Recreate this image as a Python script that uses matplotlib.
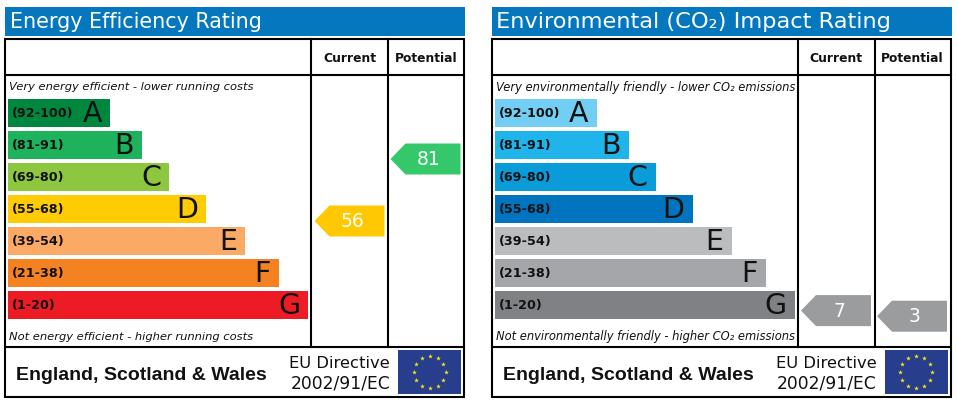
#!/usr/bin/env python3
# -*- coding: utf-8 -*-
import numpy as np
import matplotlib
matplotlib.use('Agg')
import matplotlib.pyplot as plt
from matplotlib.patches import Polygon, Rectangle

bands = ['A', 'B', 'C', 'D', 'E', 'F', 'G']
band_labels = ['(92-100)', '(81-91)', '(69-80)', '(55-68)', '(39-54)', '(21-38)', '(1-20)']
band_low = [92, 81, 69, 55, 39, 21, 1]
band_high = [100, 91, 80, 68, 54, 38, 20]
bar_lengths = [102, 134, 161, 198, 237, 271, 300]

energy_colors = ['#00873f', '#1db25b', '#8dc63f', '#ffcc03', '#fbaa65', '#f58220', '#ed1c24']
co2_colors = ['#73cef4', '#1fb4ea', '#0a9cd9', '#0074bf', '#bbbcbe', '#a5a6a9', '#808184']

energy_current = 56
energy_potential = 81
co2_current = 7
co2_potential = 3

BLUE = '#0477bf'
INK = '#111111'


def score_to_y(score, bar_top):
    # arrows sit inside the band they belong to, scaled by the band's range
    for i in range(len(bands)):
        if band_low[i] <= score <= band_high[i]:
            height = 28.0
            bottom = bar_top + i * 32 + height
            return bottom - (score - band_low[i]) / (band_high[i] - band_low[i] + 1) * height


def draw_arrow(ax, left, score, color):
    y = score_to_y(score, 99)
    pts = [(left, y), (left + 15, y - 15.5), (left + 70, y - 15.5), (left + 70, y + 15.5), (left + 15, y + 15.5)]
    ax.add_patch(Polygon(pts, closed=True, facecolor=color, edgecolor='none', zorder=3))
    ax.text(left + 38, y + 0.5, str(score), color='white', fontsize=13.5, ha='center', va='center', zorder=4)


def draw_flag(ax, x0, y0):
    ax.add_patch(Rectangle((x0, y0), 63, 44, facecolor='#263e8c', edgecolor='none'))
    ang = np.arange(12) * np.pi / 6
    ax.scatter(x0 + 31.5 + 16 * np.sin(ang), y0 + 22 - 16 * np.cos(ang), marker='*', s=13,
               color='#ffe812', linewidths=0, zorder=3)


def draw_panel(ax, x0, title, title_size, colors, top_note, bottom_note, current, potential, cur_color, pot_color, note_size):
    ax.add_patch(Rectangle((x0, 6.5), 460, 29, facecolor=BLUE, edgecolor='none'))
    ax.text(x0 + 5, 21.5, title, color='white', fontsize=title_size, ha='left', va='center')

    # table frame
    ax.add_patch(Rectangle((x0, 39), 459, 358, facecolor='white', edgecolor='black', linewidth=1.5, zorder=1))
    ax.plot([x0, x0 + 459], [75, 75], color='black', lw=1.5, zorder=2)
    ax.plot([x0, x0 + 459], [347, 347], color='black', lw=1.5, zorder=2)
    ax.plot([x0 + 306, x0 + 306], [39, 347], color='black', lw=1.5, zorder=2)
    ax.plot([x0 + 383, x0 + 383], [39, 347], color='black', lw=1.5, zorder=2)

    ax.text(x0 + 344.5, 58.5, 'Current', color=INK, fontsize=8.9, fontweight='bold', ha='center', va='center')
    ax.text(x0 + 421, 58.5, 'Potential', color=INK, fontsize=8.8, fontweight='bold', ha='center', va='center')

    ax.text(x0 + 4, 87.5, top_note, color=INK, fontsize=note_size, style='italic', ha='left', va='center')
    ax.text(x0 + 4, 336.5, bottom_note, color=INK, fontsize=note_size, style='italic', ha='left', va='center')

    y_pos = 113 + np.arange(len(bands)) * 32
    ax.barh(y_pos, bar_lengths, height=28, left=x0 + 3, color=colors, zorder=2)
    for i in range(len(bands)):
        ax.text(x0 + 7, y_pos[i] + 0.5, band_labels[i], color=INK, fontsize=9.2, fontweight='bold',
                ha='left', va='center', zorder=3)
        ax.text(x0 + 3 + bar_lengths[i] - 8, y_pos[i] + 1, bands[i], color=INK, fontsize=20.5,
                ha='right', va='center', zorder=3)

    draw_arrow(ax, x0 + 309.5, current, cur_color)
    draw_arrow(ax, x0 + 385.5, potential, pot_color)

    ax.text(x0 + 11.5, 375, 'England, Scotland & Wales', color=INK, fontsize=14, fontweight='bold',
            family='Liberation Sans', ha='left', va='center')
    ax.text(x0 + 385, 363, 'EU Directive', color=INK, fontsize=11.8, ha='right', va='center')
    ax.text(x0 + 385, 383, '2002/91/EC', color=INK, fontsize=12.3, ha='right', va='center')
    draw_flag(ax, x0 + 393, 350)


def main():
    fig = plt.figure(figsize=(9.57, 4.04), dpi=100)
    ax = fig.add_axes([0, 0, 1, 1])
    ax.set_xlim(0, 957)
    ax.set_ylim(404, 0)
    ax.axis('off')

    draw_panel(ax, 5, 'Energy Efficiency Rating', 14.9, energy_colors,
               'Very energy efficient - lower running costs',
               'Not energy efficient - higher running costs',
               energy_current, energy_potential, '#ffc800', '#35c86b', 8.27)
    draw_panel(ax, 491.5, 'Environmental (CO\u2082) Impact Rating', 16.2, co2_colors,
               'Very environmentally friendly - lower CO\u2082 emissions',
               'Not environmentally friendly - higher CO\u2082 emissions',
               co2_current, co2_potential, '#9b9c9e', '#9b9c9e', 8.3)

    fig.savefig('out.png', dpi=100)


if __name__ == "__main__":
    main()
